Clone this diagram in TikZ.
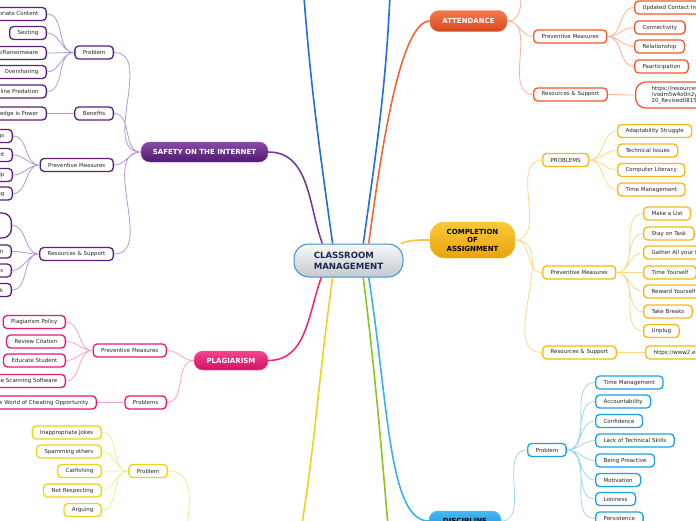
\documentclass[tikz,border=0pt]{standalone}
\usepackage{fontspec}
\setmainfont{DejaVu Sans}

\definecolor{leaftext}{HTML}{262626}
\definecolor{cmline}{HTML}{3D8FD0}
\definecolor{cmtop}{HTML}{F7F8F9}
\definecolor{cmbot}{HTML}{C4C9CD}
\definecolor{cmtext}{HTML}{1B2A4E}
\definecolor{safeline}{HTML}{5C1F7E}
\definecolor{safelink}{HTML}{B895D2}
\definecolor{safetop}{HTML}{8A4AA8}
\definecolor{safebot}{HTML}{4E1A70}
\definecolor{safetrunk}{HTML}{7B3A98}
\definecolor{plagline}{HTML}{E6177A}
\definecolor{plaglink}{HTML}{F7A3C7}
\definecolor{plagtop}{HTML}{F3468F}
\definecolor{plagbot}{HTML}{D60F66}
\definecolor{plagtrunk}{HTML}{EE2A7B}
\definecolor{yelline}{HTML}{ECD21A}
\definecolor{yellink}{HTML}{F6E98F}
\definecolor{yeltrunk}{HTML}{E6D61E}
\definecolor{attline}{HTML}{F0592A}
\definecolor{attlink}{HTML}{F7B39B}
\definecolor{atttop}{HTML}{F37A4E}
\definecolor{attbot}{HTML}{D8471E}
\definecolor{atttrunk}{HTML}{F26434}
\definecolor{compline}{HTML}{F7B718}
\definecolor{complink}{HTML}{FBD98C}
\definecolor{comptop}{HTML}{FBC93A}
\definecolor{compbot}{HTML}{E7A40A}
\definecolor{comptrunk}{HTML}{F9C23C}
\definecolor{disline}{HTML}{1D9FE6}
\definecolor{dislink}{HTML}{9ED7F7}
\definecolor{distop}{HTML}{47B9F2}
\definecolor{disbot}{HTML}{1590DC}
\definecolor{distrunk}{HTML}{35B3F0}
\definecolor{bluetrunk}{HTML}{1C6FDC}
\definecolor{greentrunk}{HTML}{8CC41E}

\newcommand{\leaffont}{\fontsize{5.5}{6}\selectfont}
\newcommand{\topicfont}{\fontsize{7}{8.5}\selectfont\bfseries}
\newcommand{\rootfont}{\fontsize{8.6}{11}\selectfont\bfseries}

\begin{document}
\begin{tikzpicture}[x=1pt, y=1pt,
  leaf/.style={draw, fill=white, line width=1.3pt, rounded corners=4pt, minimum height=13pt,
    inner xsep=8pt, inner ysep=0pt, text=leaftext, font=\leaffont},
  sleaf/.style={leaf, draw=safeline},
  pleaf/.style={leaf, draw=plagline},
  yleaf/.style={leaf, draw=yelline},
  aleaf/.style={leaf, draw=attline},
  cleaf/.style={leaf, draw=compline},
  dleaf/.style={leaf, draw=disline},
  topic/.style={rounded corners=9pt, minimum height=20pt, inner sep=0pt, font=\topicfont, text=white},
  link/.style={line width=0.8pt},
  trunk/.style={line width=1.6pt},
  rl/.style={out=0, in=180},
  lr/.style={out=180, in=0}]

\useasboundingbox (0,0) rectangle (696,-520);
\clip (0,0) rectangle (696,-520);

% ---- the centre ------------------------------------------------------------------
\node[draw=cmline, line width=1pt, top color=cmtop, bottom color=cmbot, rounded corners=15pt,
  minimum width=109pt, minimum height=33pt, align=left, font=\rootfont, text=cmtext]
  (cm) at (348.5,-260.5) {CLASSROOM\\MANAGEMENT};

% ---- branches that run off the page ----------------------------------------------
\coordinate (bu1) at (302,30);
\coordinate (bu2) at (391,30);
\coordinate (au)  at (520,25);
\coordinate (ye)  at (296,-560);
\coordinate (yw)  at (184,-560);
\coordinate (gd)  at (391,-560);

% ---- main topics -----------------------------------------------------------------
\node[topic, draw=safetop, top color=safetop, bottom color=safebot, minimum width=127pt]
  (saf) at (204.5,-152) {SAFETY ON THE INTERNET};
\node[topic, draw=plagtop, top color=plagtop, bottom color=plagbot, minimum width=74pt, minimum height=19pt]
  (plag) at (231,-360.5) {PLAGIARISM};
\node[topic, draw=atttop, top color=atttop, bottom color=attbot, minimum width=77pt, minimum height=21pt]
  (att) at (468.5,-21) {ATTENDANCE};
\node[topic, draw=comptop, top color=comptop, bottom color=compbot, minimum width=85pt, minimum height=36pt,
  rounded corners=14pt, align=center, text=black] (comp) at (472.5,-240) {COMPLETION\\OF\\ASSIGNMENT};
\node[topic, draw=distop, top color=distop, bottom color=disbot, minimum width=72pt, text=black]
  (dis) at (465,-521) {DISCIPLINE};

\draw[trunk, draw=safetrunk]  (cm.147) to[out=110, in=0] (saf.east);
\draw[trunk, draw=bluetrunk]  (cm.133) to[out=98, in=-86] (bu1);
\draw[trunk, draw=bluetrunk]  (cm.49)  to[out=82, in=-92] (bu2);
\draw[trunk, draw=atttrunk]   (cm.40) .. controls +(12,90) and +(-30,0) .. (att.west);
\draw[trunk, draw=comptrunk]  (cm.18)  to[out=20, in=180] (comp.west);
\draw[trunk, draw=plagtrunk]  (cm.212) to[out=-110, in=0] (plag.east);
\draw[trunk, draw=yeltrunk]   (cm.227) to[out=-98, in=80] (ye);
\draw[trunk, draw=greentrunk] (cm.311) to[out=-83, in=95] (gd);
\draw[trunk, draw=distrunk]   (cm.320) .. controls +(20,-130) and +(-40,0) .. (dis.west);

% ---- safety on the internet ------------------------------------------------------
\node[sleaf, anchor=east] (sp) at (114,-52.5) {Problem};
\node[sleaf, anchor=east] (sb) at (114,-113.5) {Benefits};
\node[sleaf, anchor=east] (sm) at (114,-165) {Preventive Measures};
\node[sleaf, anchor=east] (sr) at (114,-254) {Resources \& Support};

\node[sleaf, anchor=east] (sp1) at (47,-14) {Inappropriate Content};
\node[sleaf, anchor=east] (sp2) at (47,-33) {Sexting};
\node[sleaf, anchor=east] (sp3) at (47,-53) {Spyware/Ransomware};
\node[sleaf, anchor=east] (sp4) at (47,-72) {Oversharing};
\node[sleaf, anchor=east] (sp5) at (47,-91.5) {Online Predation};
\node[sleaf, anchor=east] (sb1) at (47,-113.5) {Knowledge is Power};
\node[sleaf, anchor=east] (sm1) at (13,-136) {Privacy Settings};
\node[sleaf, anchor=east] (sm2) at (13,-155) {Digital Footprint};
\node[sleaf, anchor=east] (sm3) at (13,-175) {Ask for Help};
\node[sleaf, anchor=east] (sm4) at (13,-193.5) {Monitoring};
\node[sleaf, anchor=east, rounded corners=9pt, minimum height=25pt, minimum width=60pt] (sr1) at (12,-225.5) {};
\node[sleaf, anchor=east] (sr2) at (12,-251.5) {Open Communication};
\node[sleaf, anchor=east] (sr3) at (12,-270.5) {Internet Safety Tips};
\node[sleaf, anchor=east] (sr4) at (12,-290) {Think Before You Click};

\draw[link, lr, draw=safelink] (saf.west) to (sp.east) (saf.west) to (sb.east)
  (saf.west) to (sm.east) (saf.west) to (sr.east);
\draw[link, lr, draw=safelink] (sp.west) to (sp1.east) (sp.west) to (sp2.east) (sp.west) to (sp3.east)
  (sp.west) to (sp4.east) (sp.west) to (sp5.east);
\draw[link, lr, draw=safelink] (sb.west) to (sb1.east);
\draw[link, lr, draw=safelink] (sm.west) to (sm1.east) (sm.west) to (sm2.east) (sm.west) to (sm3.east)
  (sm.west) to (sm4.east);
\draw[link, lr, draw=safelink] (sr.west) to (sr1.east) (sr.west) to (sr2.east) (sr.west) to (sr3.east)
  (sr.west) to (sr4.east);

% ---- plagiarism ------------------------------------------------------------------
\node[pleaf, anchor=east] (pm) at (167,-350.5) {Preventive Measures};
\node[pleaf, anchor=east] (pp) at (167,-402.5) {Problems};

\node[pleaf, anchor=east] (pm1) at (66,-322) {Plagiarism Policy};
\node[pleaf, anchor=east] (pm2) at (66,-341.5) {Review Citation};
\node[pleaf, anchor=east] (pm3) at (66,-360.5) {Educate Student};
\node[pleaf, anchor=east] (pm4) at (66,-381) {Use Scanning Software};
\node[pleaf, anchor=east] (pp1) at (97,-402.5) {The World of Cheating Opportunity};

\draw[link, lr, draw=plaglink] (plag.west) to (pm.east) (plag.west) to (pp.east);
\draw[link, lr, draw=plaglink] (pm.west) to (pm1.east) (pm.west) to (pm2.east) (pm.west) to (pm3.east)
  (pm.west) to (pm4.east);
\draw[link, lr, draw=plaglink] (pp.west) to (pp1.east);

% ---- the yellow branch below the page --------------------------------------------
\node[yleaf, anchor=east] (yp) at (168,-471) {Problem};

\node[yleaf, anchor=east] (yp1) at (102,-432.5) {Inappropriate Jokes};
\node[yleaf, anchor=east] (yp2) at (102,-451.5) {Spamming others};
\node[yleaf, anchor=east] (yp3) at (102,-471) {Catfishing};
\node[yleaf, anchor=east] (yp4) at (102,-490.5) {Not Respecting};
\node[yleaf, anchor=east] (yp5) at (102,-510) {Arguing};

\draw[link, draw=yellink] (yp.east) to[out=0, in=90] (yw);
\draw[link, lr, draw=yellink] (yp.west) to (yp1.east) (yp.west) to (yp2.east) (yp.west) to (yp3.east)
  (yp.west) to (yp4.east) (yp.west) to (yp5.east);

% ---- attendance ------------------------------------------------------------------
\node[aleaf, anchor=west] (am) at (533,-36.5) {Preventive Measures};
\node[aleaf, anchor=west] (ar) at (533,-94.5) {Resources \& Support};

\node[aleaf, anchor=west] (am1) at (634,-7.5) {Updated Contact Info};
\node[aleaf, anchor=west] (am2) at (634,-27.5) {Connectivity};
\node[aleaf, anchor=west] (am3) at (634,-46.5) {Relationship};
\node[aleaf, anchor=west] (am4) at (634,-66.5) {Paarticipation};
\node[aleaf, anchor=west, rounded corners=10pt, minimum height=26pt, inner xsep=16pt, align=left]
  (ar1) at (635,-95) {https://resources\\/vodm5w4o0n2y\\20\_Revised0815};

\draw[link, draw=attlink] (att.east) to[out=0, in=-90] (au);
\draw[link, rl, draw=attlink] (att.east) to (am.west) (att.east) to (ar.west);
\draw[link, rl, draw=attlink] (am.east) to (am1.west) (am.east) to (am2.west) (am.east) to (am3.west)
  (am.east) to (am4.west);
\draw[link, rl, draw=attlink] (ar.east) to (ar1.west);

% ---- completion of assignment ----------------------------------------------------
\node[cleaf, anchor=west] (cp) at (542,-160) {PROBLEMS};
\node[cleaf, anchor=west] (cm0) at (542,-272.5) {Preventive Measures};
\node[cleaf, anchor=west] (cr) at (542,-352.5) {Resources \& Support};

\node[cleaf, anchor=west] (cp1) at (617,-131) {Adaptability Struggle};
\node[cleaf, anchor=west] (cp2) at (617,-150.5) {Technical Issues};
\node[cleaf, anchor=west] (cp3) at (617,-170) {Computer Literacy};
\node[cleaf, anchor=west] (cp4) at (617,-189.5) {Time Management};
\node[cleaf, anchor=west] (cm1) at (643,-213.5) {Make a List};
\node[cleaf, anchor=west] (cm2) at (643,-233.5) {Stay on Task};
\node[cleaf, anchor=west] (cm3) at (643,-252.5) {Gather All your Materials};
\node[cleaf, anchor=west] (cm4) at (643,-272.5) {Time Yourself};
\node[cleaf, anchor=west] (cm5) at (643,-291.5) {Reward Yourself};
\node[cleaf, anchor=west] (cm6) at (643,-311.5) {Take Breaks};
\node[cleaf, anchor=west] (cm7) at (643,-331) {Unplug};
\node[cleaf, anchor=west] (cr1) at (645,-352.5) {https://www2.ed.gov};

\draw[link, rl, draw=complink] (comp.east) to (cp.west) (comp.east) to (cm0.west) (comp.east) to (cr.west);
\draw[link, rl, draw=complink] (cp.east) to (cp1.west) (cp.east) to (cp2.west) (cp.east) to (cp3.west)
  (cp.east) to (cp4.west);
\draw[link, rl, draw=complink] (cm0.east) to (cm1.west) (cm0.east) to (cm2.west) (cm0.east) to (cm3.west)
  (cm0.east) to (cm4.west) (cm0.east) to (cm5.west) (cm0.east) to (cm6.west) (cm0.east) to (cm7.west);
\draw[link, rl, draw=complink] (cr.east) to (cr1.west);

% ---- discipline ------------------------------------------------------------------
\node[dleaf, anchor=west] (dp) at (527,-450) {Problem};

\node[dleaf, anchor=west] (dp1) at (595,-382.5) {Time Management};
\node[dleaf, anchor=west] (dp2) at (595,-401.5) {Accountability};
\node[dleaf, anchor=west] (dp3) at (595,-421) {Confidence};
\node[dleaf, anchor=west] (dp4) at (595,-440.5) {Lack of Technical Skills};
\node[dleaf, anchor=west] (dp5) at (595,-460.5) {Being Proactive};
\node[dleaf, anchor=west] (dp6) at (595,-480) {Motivation};
\node[dleaf, anchor=west] (dp7) at (595,-499) {Loniness};
\node[dleaf, anchor=west] (dp8) at (595,-518.5) {Persistence};

\draw[link, rl, draw=dislink] (dis.east) to (dp.west);
\draw[link, rl, draw=dislink] (dp.east) to (dp1.west) (dp.east) to (dp2.west) (dp.east) to (dp3.west)
  (dp.east) to (dp4.west) (dp.east) to (dp5.west) (dp.east) to (dp6.west) (dp.east) to (dp7.west)
  (dp.east) to (dp8.west);

\end{tikzpicture}
\end{document}
